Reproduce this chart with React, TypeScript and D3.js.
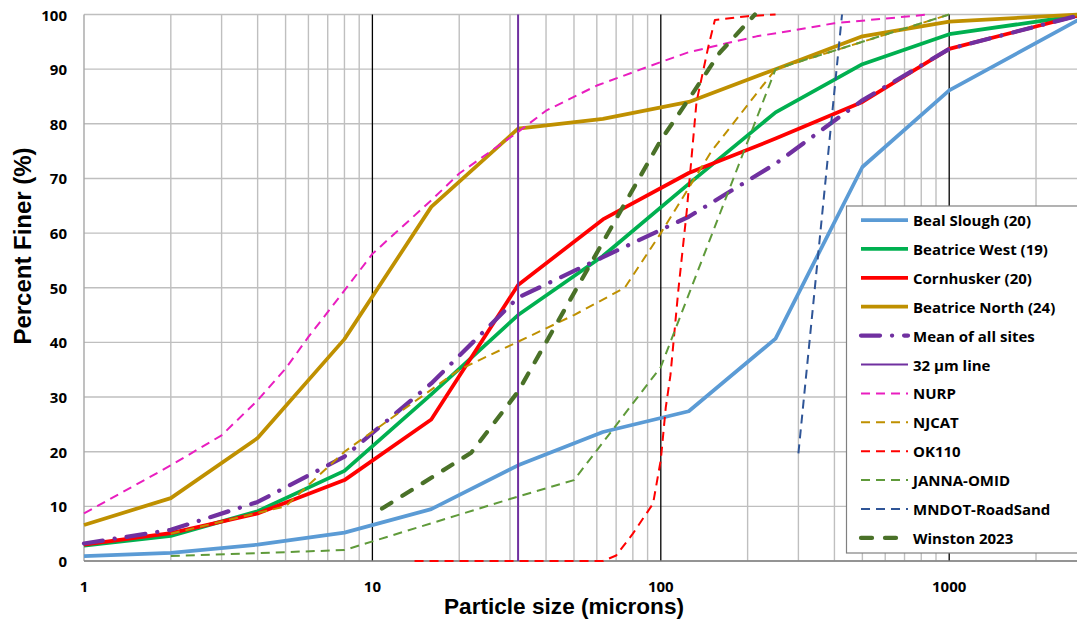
import React from "react";
import * as d3 from "d3";

// Particle size (microns) and percent finer for each gradation curve
const bealSize = [1, 2, 4, 8, 16, 32, 63, 125, 250, 500, 1000, 2800];
const bealPct = [0.9, 1.5, 3.0, 5.2, 9.5, 17.5, 23.6, 27.4, 40.7, 72.1, 86.1, 99.0];

const westSize = [1, 2, 4, 8, 16, 32, 63, 125, 250, 500, 1000, 2800];
const westPct = [2.8, 4.6, 9.1, 16.5, 30.5, 45.0, 55.8, 69.0, 82.1, 90.9, 96.4, 99.8];

const cornSize = [1, 2, 4, 8, 16, 32, 63, 125, 250, 500, 1000, 2800];
const cornPct = [3.0, 5.1, 8.7, 14.8, 25.9, 50.5, 62.5, 71.0, 77.3, 84.0, 93.7, 99.8];

const northSize = [1, 2, 4, 8, 16, 32, 63, 125, 250, 500, 1000, 2800];
const northPct = [6.6, 11.5, 22.5, 40.6, 64.8, 79.1, 80.9, 84.0, 90.0, 96.0, 98.7, 100];

const meanSize = [1, 2, 4, 8, 16, 32, 63, 125, 250, 500, 1000, 2800];
const meanPct = [3.2, 5.7, 10.8, 19.1, 32.5, 48.2, 55.6, 63.0, 72.7, 84.3, 93.7, 99.8];

const line32Size = [32, 32];
const line32Pct = [0, 100];

const nurpSize = [1, 2, 3, 4, 5, 6, 8, 10, 16, 20, 32, 40, 60, 100, 125, 165, 215, 280, 400, 850];
const nurpPct = [8.7, 17.5, 23, 29.4, 35.2, 41, 49.5, 56.2, 66, 70.9, 78.5, 82.4, 87, 91.3, 93.1, 94.6, 96, 97, 98.4, 100];

const njcatSize = [2, 5, 8, 20, 50, 75, 100, 150, 250, 500, 1000];
const njcatPct = [5, 10, 20, 35, 45, 50, 60, 75, 90, 95, 100];

const ok110Size = [14, 63, 70, 80, 94, 100, 104, 108, 115, 123, 133, 146, 154, 200, 250];
const ok110Pct = [0, 0, 1, 5, 10.5, 18.5, 28, 34, 49.5, 64, 84, 94, 99, 99.7, 100];

const jannaSize = [2, 8, 16, 32, 50, 100, 250, 1000];
const jannaPct = [0.9, 2.0, 6.9, 11.8, 14.8, 35.5, 90, 100];

const mndotSize = [300, 425];
const mndotPct = [19.7, 100];

const winstonSize = [10.8, 22, 32, 100, 125, 160, 212];
const winstonPct = [9.6, 19.8, 31, 77, 84.5, 93, 100];

const seriesNames = [
  "Beal Slough (20)",
  "Beatrice West (19)",
  "Cornhusker (20)",
  "Beatrice North (24)",
  "Mean of all sites",
  "32 µm line",
  "NURP",
  "NJCAT",
  "OK110",
  "JANNA-OMID",
  "MNDOT-RoadSand",
  "Winston 2023",
];

const yTicks = [0, 10, 20, 30, 40, 50, 60, 70, 80, 90, 100];
const xTickLabels = [1, 10, 100, 1000];

const W = 1077;
const H = 619;
const xMin = 1;
const xMax = 2800;

type Style = {
  color: string;
  width: number;
  dash?: string;
  cap?: "butt" | "round";
};

const thinDash = "9 6";

export default function App() {
  const x = d3
    .scaleLog()
    .domain([xMin, xMax])
    .range([84, 84 + Math.log10(xMax) * 288.4]);
  const y = d3.scaleLinear().domain([0, 100]).range([561, 14.5]);

  const line = d3
    .line<[number, number]>()
    .x((d) => x(d[0]))
    .y((d) => y(d[1]));

  const zip = (s: number[], p: number[]) =>
    s.map((v, i) => [v, p[i]] as [number, number]);

  const series: { name: string; pts: [number, number][]; style: Style }[] = [
    { name: seriesNames[0], pts: zip(bealSize, bealPct), style: { color: "#5B9BD5", width: 3.75 } },
    { name: seriesNames[1], pts: zip(westSize, westPct), style: { color: "#00B050", width: 3.75 } },
    { name: seriesNames[2], pts: zip(cornSize, cornPct), style: { color: "#FF0000", width: 3.75 } },
    { name: seriesNames[3], pts: zip(northSize, northPct), style: { color: "#BF9000", width: 3.75 } },
    {
      name: seriesNames[4],
      pts: zip(meanSize, meanPct),
      style: { color: "#7030A0", width: 4.25, dash: "19 12 0.1 12", cap: "round" },
    },
    { name: seriesNames[5], pts: zip(line32Size, line32Pct), style: { color: "#7030A0", width: 2 } },
    { name: seriesNames[6], pts: zip(nurpSize, nurpPct), style: { color: "#E91EBF", width: 2, dash: thinDash } },
    { name: seriesNames[7], pts: zip(njcatSize, njcatPct), style: { color: "#BF9000", width: 2, dash: thinDash } },
    { name: seriesNames[8], pts: zip(ok110Size, ok110Pct), style: { color: "#FF0000", width: 2, dash: thinDash } },
    { name: seriesNames[9], pts: zip(jannaSize, jannaPct), style: { color: "#5F9A3A", width: 2, dash: thinDash } },
    { name: seriesNames[10], pts: zip(mndotSize, mndotPct), style: { color: "#2F5597", width: 2, dash: thinDash } },
    {
      name: seriesNames[11],
      pts: zip(winstonSize, winstonPct),
      style: { color: "#4A7128", width: 4.25, dash: "11 13", cap: "round" },
    },
  ];

  // minor decade gridlines 2..9 x 10^k
  const minor: number[] = [];
  for (let k = 0; k <= 3; k++) {
    for (let m = 2; m <= 9; m++) {
      const v = m * Math.pow(10, k);
      if (v < xMax) minor.push(v);
    }
  }
  const major = [10, 100, 1000];

  const top = y(100);
  const bottom = y(0);
  const left = x(xMin);
  const right = x(xMax);

  const tickFont = "'Open Sans', 'Liberation Sans', sans-serif";
  const titleFont = "'Liberation Sans Narrow', 'Liberation Sans', sans-serif";

  const legX = 846.5;
  const legY = 206;
  const legStep = 28.9;

  return (
    <svg
      width={W}
      height={H}
      viewBox={`0 0 ${W} ${H}`}
      style={{ position: "absolute", left: 0, top: 0, background: "#fff", overflow: "hidden" }}
    >
      <rect x={0} y={0} width={W} height={H} fill="#fff" />
      {/* horizontal gridlines */}
      {yTicks.map((t) => (
        <line key={`h${t}`} x1={left} x2={right} y1={y(t)} y2={y(t)} stroke="#BFBFBF" strokeWidth={1.4} />
      ))}
      {/* vertical minor gridlines */}
      {minor.map((v) => (
        <line key={`v${v}`} x1={x(v)} x2={x(v)} y1={top} y2={bottom} stroke="#BFBFBF" strokeWidth={1.4} />
      ))}
      {/* decade lines */}
      {major.map((v) => (
        <line key={`m${v}`} x1={x(v)} x2={x(v)} y1={top} y2={bottom} stroke="#000" strokeWidth={1.3} />
      ))}
      <line x1={left} x2={left} y1={top} y2={bottom} stroke="#A6A6A6" strokeWidth={1.4} />
      <line x1={left} x2={right} y1={bottom} y2={bottom} stroke="#808080" strokeWidth={1.5} />

      {/* gradation curves */}
      {series.map((s) => (
        <path
          key={s.name}
          d={line(s.pts) || ""}
          fill="none"
          stroke={s.style.color}
          strokeWidth={s.style.width}
          strokeDasharray={s.style.dash}
          strokeLinecap={s.style.cap || "butt"}
          strokeLinejoin="round"
        />
      ))}

      {/* y tick labels */}
      {yTicks.map((t) => (
        <text
          key={`yl${t}`}
          x={67}
          y={y(t)}
          textAnchor="end"
          dominantBaseline="central"
          fontFamily={tickFont}
          fontWeight={700}
          fontSize={15}
          fill="#000"
        >
          {t}
        </text>
      ))}
      {/* x tick labels */}
      {xTickLabels.map((t) => (
        <text
          key={`xl${t}`}
          x={x(t)}
          y={586}
          textAnchor="middle"
          dominantBaseline="central"
          fontFamily={tickFont}
          fontWeight={700}
          fontSize={15}
          fill="#000"
        >
          {t}
        </text>
      ))}

      {/* axis titles */}
      <text
        x={564}
        y={614}
        textAnchor="middle"
        fontFamily={titleFont}
        fontWeight={700}
        fontSize={22}
        textLength={240}
        lengthAdjust="spacingAndGlyphs"
        fill="#000"
      >
        Particle size (microns)
      </text>
      <text
        transform={`translate(31, 246) rotate(-90)`}
        textAnchor="middle"
        fontFamily={titleFont}
        fontWeight={700}
        fontSize={23}
        textLength={197}
        lengthAdjust="spacingAndGlyphs"
        fill="#000"
      >
        Percent Finer (%)
      </text>

      {/* legend */}
      <rect x={legX} y={legY} width={260} height={347} fill="#fff" stroke="#808080" strokeWidth={1.2} />
      {series.map((s, i) => {
        const cy = 220 + i * legStep;
        return (
          <g key={`lg${s.name}`}>
            <line
              x1={861}
              x2={908}
              y1={cy}
              y2={cy}
              stroke={s.style.color}
              strokeWidth={s.style.width}
              strokeDasharray={s.style.dash}
              strokeLinecap={s.style.cap || "butt"}
            />
            <text
              x={913}
              y={cy}
              dominantBaseline="central"
              fontFamily={tickFont}
              fontWeight={700}
              fontSize={15}
              fill="#000"
            >
              {s.name}
            </text>
          </g>
        );
      })}
    </svg>
  );
}
